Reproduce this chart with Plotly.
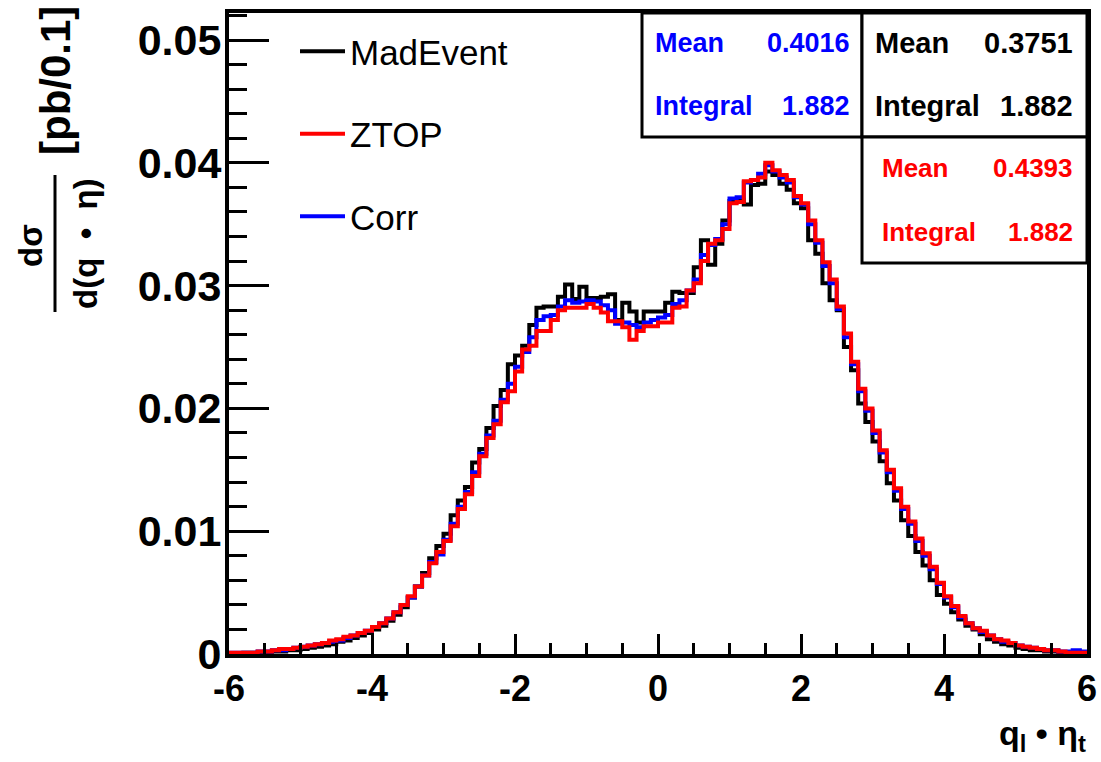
import numpy as np
import plotly.graph_objects as go

# ---------------- data ----------------
bin_edges = np.round(np.linspace(-6.0, 6.0, 121), 2)

madevent = [
    0.0000, 0.0000, 0.0001, 0.0001, 0.0001, 0.0001, 0.0002, 0.0002, 0.0003, 0.0003,
    0.0004, 0.0005, 0.0006, 0.0007, 0.0008, 0.0010, 0.0011, 0.0013, 0.0015, 0.0017,
    0.0020, 0.0023, 0.0027, 0.0032, 0.0038, 0.0046, 0.0055, 0.0066, 0.0078, 0.0088,
    0.0098, 0.0113, 0.0125, 0.0136, 0.0156, 0.0167, 0.0184, 0.0202, 0.0215, 0.0236,
    0.0243, 0.0251, 0.0268, 0.0282, 0.0283, 0.0283, 0.0291, 0.0301, 0.0289, 0.0299,
    0.0290, 0.0290, 0.0291, 0.0293, 0.0272, 0.0286, 0.0279, 0.0270, 0.0279, 0.0279,
    0.0279, 0.0286, 0.0295, 0.0294, 0.0294, 0.0315, 0.0337, 0.0317, 0.0334, 0.0353,
    0.0369, 0.0370, 0.0366, 0.0382, 0.0383, 0.0393, 0.0390, 0.0383, 0.0378, 0.0367,
    0.0363, 0.0337, 0.0326, 0.0302, 0.0288, 0.0280, 0.0250, 0.0231, 0.0204, 0.0189,
    0.0173, 0.0157, 0.0139, 0.0125, 0.0109, 0.0096, 0.0083, 0.0072, 0.0060, 0.0048,
    0.0041, 0.0034, 0.0028, 0.0023, 0.0020, 0.0016, 0.0012, 0.0010, 0.0008, 0.0007,
    0.0005, 0.0004, 0.0003, 0.0003, 0.0002, 0.0002, 0.0001, 0.0001, 0.0001, 0.0000,
]

ztop = [
    0.0001, 0.0001, 0.0001, 0.0001, 0.0002, 0.0002, 0.0003, 0.0004, 0.0004, 0.0005,
    0.0006, 0.0007, 0.0008, 0.0009, 0.0011, 0.0012, 0.0014, 0.0015, 0.0017, 0.0019,
    0.0022, 0.0025, 0.0029, 0.0034, 0.0040, 0.0047, 0.0055, 0.0064, 0.0074, 0.0083,
    0.0092, 0.0104, 0.0118, 0.0130, 0.0145, 0.0161, 0.0176, 0.0187, 0.0205, 0.0214,
    0.0230, 0.0248, 0.0251, 0.0263, 0.0263, 0.0272, 0.0280, 0.0282, 0.0282, 0.0282,
    0.0285, 0.0282, 0.0278, 0.0271, 0.0271, 0.0266, 0.0256, 0.0263, 0.0267, 0.0267,
    0.0270, 0.0270, 0.0282, 0.0283, 0.0296, 0.0302, 0.0320, 0.0334, 0.0337, 0.0346,
    0.0367, 0.0368, 0.0385, 0.0386, 0.0388, 0.0400, 0.0394, 0.0390, 0.0386, 0.0373,
    0.0367, 0.0353, 0.0337, 0.0319, 0.0305, 0.0283, 0.0261, 0.0238, 0.0216, 0.0200,
    0.0182, 0.0166, 0.0150, 0.0135, 0.0120, 0.0108, 0.0094, 0.0082, 0.0071, 0.0058,
    0.0047, 0.0039, 0.0031, 0.0025, 0.0021, 0.0019, 0.0015, 0.0012, 0.0011, 0.0009,
    0.0007, 0.0006, 0.0005, 0.0004, 0.0003, 0.0003, 0.0002, 0.0001, 0.0001, 0.0001,
]

corr = [
    0.0001, 0.0001, 0.0001, 0.0001, 0.0002, 0.0002, 0.0003, 0.0003, 0.0004, 0.0005,
    0.0006, 0.0007, 0.0008, 0.0009, 0.0010, 0.0011, 0.0013, 0.0015, 0.0017, 0.0019,
    0.0022, 0.0025, 0.0029, 0.0034, 0.0040, 0.0046, 0.0055, 0.0064, 0.0075, 0.0081,
    0.0093, 0.0106, 0.0120, 0.0132, 0.0148, 0.0163, 0.0178, 0.0190, 0.0207, 0.0220,
    0.0234, 0.0246, 0.0258, 0.0272, 0.0275, 0.0276, 0.0283, 0.0288, 0.0286, 0.0287,
    0.0288, 0.0287, 0.0284, 0.0280, 0.0269, 0.0270, 0.0268, 0.0266, 0.0270, 0.0272,
    0.0274, 0.0276, 0.0285, 0.0288, 0.0296, 0.0305, 0.0325, 0.0333, 0.0338, 0.0350,
    0.0371, 0.0372, 0.0384, 0.0386, 0.0391, 0.0398, 0.0393, 0.0388, 0.0384, 0.0372,
    0.0366, 0.0350, 0.0335, 0.0316, 0.0302, 0.0281, 0.0258, 0.0236, 0.0214, 0.0198,
    0.0180, 0.0164, 0.0148, 0.0133, 0.0118, 0.0106, 0.0092, 0.0080, 0.0069, 0.0057,
    0.0046, 0.0038, 0.0030, 0.0025, 0.0021, 0.0018, 0.0015, 0.0012, 0.0010, 0.0009,
    0.0007, 0.0006, 0.0005, 0.0004, 0.0003, 0.0003, 0.0002, 0.0002, 0.0003, 0.0002,
]

series_names = ["MadEvent", "Corr", "ZTOP"]
series_colors = ["#000000", "#0000ff", "#ff0000"]
series_rank = [1, 3, 2]

x_tick_vals = [-6, -4, -2, 0, 2, 4, 6]
x_tick_text = ["-6", "-4", "-2", "0", "2", "4", "6"]
x_minor_vals = list(np.round(np.arange(-6.0, 6.01, 0.5), 2))
y_tick_vals = [0, 0.01, 0.02, 0.03, 0.04, 0.05]
y_tick_text = ["0", "0.01", "0.02", "0.03", "0.04", "0.05"]
y_minor_vals = list(np.round(np.arange(0.0, 0.0521, 0.002), 4))

stat_means = ["0.4016", "0.3751", "0.4393"]
stat_integrals = ["1.882", "1.882", "1.882"]

FONT = "Liberation Sans, Arial, Helvetica, sans-serif"

# ---------------- figure ----------------
W, H = 1101, 762
ML, MR, MT, MB = 229, 14, 13, 108
PW, PH = W - ML - MR, H - MT - MB


def px2x(px):
    return (px - ML) / PW


def py2y(py):
    return (H - MB - py) / PH


fig = go.Figure()
for name, vals, color, rank in zip(series_names, [madevent, corr, ztop], series_colors, series_rank):
    fig.add_trace(go.Scatter(
        x=bin_edges, y=list(vals) + [vals[-1]], mode="lines", name=name,
        line=dict(color=color, width=4, shape="hv"),
        legendrank=rank, legendgroup=name,
    ))

axis_common = dict(showline=True, mirror=True, linewidth=4, linecolor="black",
                   showgrid=False, zeroline=False, ticks="inside", tickwidth=3,
                   tickcolor="black")

fig.update_layout(
    width=W, height=H,
    margin=dict(l=ML, r=MR, t=MT, b=MB, autoexpand=False),
    paper_bgcolor="white", plot_bgcolor="white",
    xaxis=dict(range=[-6, 6], tickmode="array", tickvals=x_tick_vals, ticktext=x_tick_text,
               ticklen=20,
               minor=dict(tickmode="array", tickvals=x_minor_vals, ticks="inside",
                          ticklen=11, tickwidth=3, tickcolor="black"),
               tickfont=dict(family=FONT, size=36, color="black", weight="bold"),
               **axis_common),
    yaxis=dict(range=[0, 0.0522], tickmode="array", tickvals=y_tick_vals, ticktext=y_tick_text,
               ticklen=40, ticklabelstandoff=-5,
               minor=dict(tickmode="array", tickvals=y_minor_vals, ticks="inside",
                          ticklen=18, tickwidth=3, tickcolor="black"),
               tickfont=dict(family=FONT, size=43, color="black", weight="bold"),
               **axis_common),
    legend=dict(x=px2x(295), y=py2y(22), xanchor="left", yanchor="top",
                bgcolor="rgba(0,0,0,0)", borderwidth=0, tracegroupgap=34, itemwidth=45,
                font=dict(family=FONT, size=35, color="black")),
    showlegend=True,
)

# stat boxes
box_defs = [
    (642, 862, 13, 137, "blue", 27, 653, 852, 43, 106),
    (862, 1087, 13, 137, "black", 29, 873, 1075, 43, 106),
    (862, 1087, 137, 263, "red", 26, 880, 1075, 168, 232),
]
for (x0, x1, y0, y1, col, fs, tl, tr, ym, yi), mean, integ in zip(box_defs, stat_means, stat_integrals):
    fig.add_shape(type="rect", xref="paper", yref="paper",
                  x0=px2x(x0), x1=px2x(x1), y0=py2y(y1), y1=py2y(y0),
                  line=dict(color="black", width=3), fillcolor="white", layer="above")
    for label, val, yy in [("Mean", mean, ym), ("Integral", integ, yi)]:
        fig.add_annotation(xref="paper", yref="paper", x=px2x(tl), y=py2y(yy),
                           xanchor="left", yanchor="middle", showarrow=False, text=label,
                           font=dict(family=FONT, size=fs, color=col, weight="bold"))
        fig.add_annotation(xref="paper", yref="paper", x=px2x(tr), y=py2y(yy),
                           xanchor="right", yanchor="middle", showarrow=False, text=val,
                           font=dict(family=FONT, size=fs, color=col, weight="bold"))

# y-axis title: fraction dσ / d(q•η)  [pb/0.1]
fig.add_annotation(xref="paper", yref="paper", x=px2x(56), y=py2y(81), textangle=-90,
                   showarrow=False, text="[pb/0.1]", xanchor="center", yanchor="middle",
                   font=dict(family=FONT, size=42, color="black", weight="bold"))
fig.add_annotation(xref="paper", yref="paper", x=px2x(30), y=py2y(246), textangle=-90,
                   showarrow=False, text="dσ", xanchor="center", yanchor="middle",
                   font=dict(family=FONT, size=33, color="black", weight="bold"))
fig.add_annotation(xref="paper", yref="paper", x=px2x(85), y=py2y(244), textangle=-90,
                   showarrow=False, text="d(q\u00a0\u00a0•\u00a0\u00a0η)", xanchor="center", yanchor="middle",
                   font=dict(family=FONT, size=33, color="black", weight="bold"))
fig.add_shape(type="line", xref="paper", yref="paper",
              x0=px2x(55), x1=px2x(55), y0=py2y(312), y1=py2y(175),
              line=dict(color="black", width=3))

# x-axis title
fig.add_annotation(xref="paper", yref="paper", x=px2x(1088), y=py2y(735),
                   xanchor="right", yanchor="middle", showarrow=False,
                   text="q<sub>l</sub> • η<sub>t</sub>",
                   font=dict(family=FONT, size=34, color="black", weight="bold"))

fig.write_html(
    "out.html",
    config={"displayModeBar": False},
    post_script="document.body.style.margin='0';document.body.style.padding='0';"
                "document.body.style.overflow='hidden';",
)
